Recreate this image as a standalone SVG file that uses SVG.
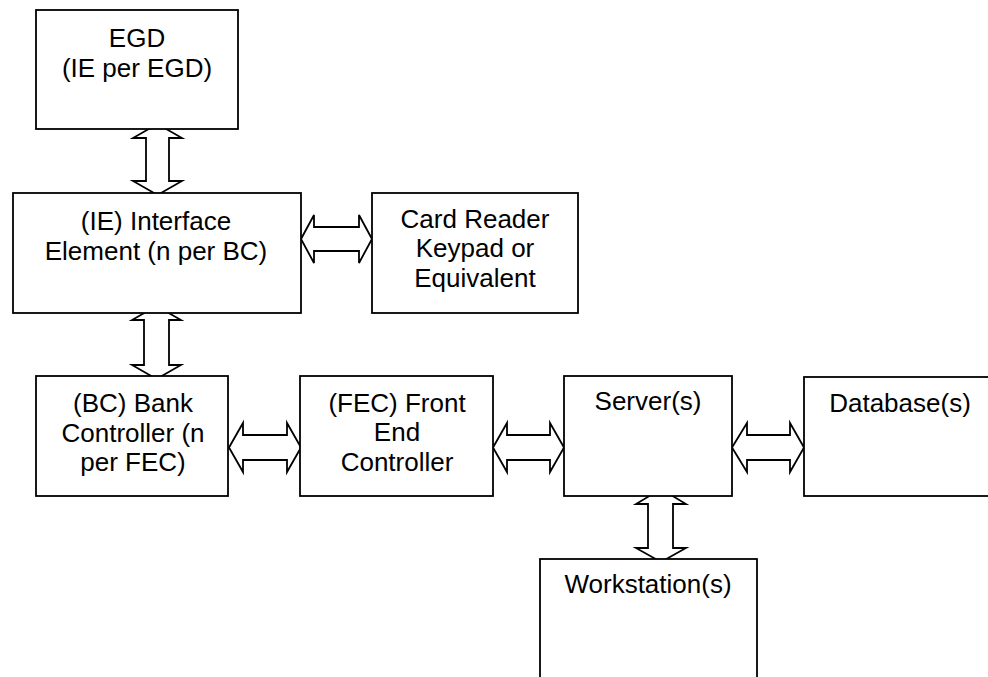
<svg xmlns="http://www.w3.org/2000/svg" width="988" height="677" viewBox="0 0 988 677">
<style>
.box{fill:#fff;stroke:#000;stroke-width:1.8}
.arr{fill:#fff;stroke:#000;stroke-width:1.8;stroke-linejoin:miter}
text{font-family:"Liberation Sans",Arial,sans-serif;font-size:26px;fill:#000;text-anchor:middle}
</style>
<rect width="988" height="677" fill="#fff"/>
<g id="connectors">
<!-- EGD - IE vertical -->
<path class="arr" d="M157.5,124 L182,138 L169,138 L169,181 L182,181 L157.5,195 L133,181 L146,181 L146,138 L133,138 Z"/>
<!-- IE - BC vertical -->
<path class="arr" d="M156.5,306 L181,320 L169,320 L169,365 L181,365 L156.5,379 L132,365 L144,365 L144,320 L132,320 Z"/>
<!-- Server - WS vertical -->
<path class="arr" d="M661,489 L686,504 L673,504 L673,548 L686,548 L661,562 L636,548 L648,548 L648,504 L636,504 Z"/>
<!-- IE - Card horizontal -->
<path class="arr" d="M301,239 L314,215 L314,227 L359,227 L359,215 L372,239 L359,263 L359,251 L314,251 L314,263 Z"/>
<!-- BC - FEC -->
<path class="arr" d="M229,447.5 L243,423 L243,435 L287,435 L287,423 L301,447.5 L287,472 L287,460 L243,460 L243,472 Z"/>
<!-- FEC - Server -->
<path class="arr" d="M493,447.5 L507,423 L507,435 L550,435 L550,423 L564,447.5 L550,472 L550,460 L507,460 L507,472 Z"/>
<!-- Server - DB -->
<path class="arr" d="M732,447.5 L747,423 L747,435 L790,435 L790,423 L804,447.5 L790,472 L790,460 L747,460 L747,472 Z"/>
</g>
<g id="egd">
<rect class="box" x="36" y="10" width="202" height="119"/>
<text x="137" y="47">EGD</text>
<text x="137" y="77">(IE per EGD)</text>
</g>
<g id="ie">
<rect class="box" x="13" y="193" width="288" height="120"/>
<text x="156" y="230">(IE) Interface</text>
<text x="156" y="260">Element (n per BC)</text>
</g>
<g id="card">
<rect class="box" x="372" y="193" width="206" height="120"/>
<text x="475" y="228">Card Reader</text>
<text x="475" y="257">Keypad or</text>
<text x="475" y="287">Equivalent</text>
</g>
<g id="bc">
<rect class="box" x="36" y="376" width="192" height="120"/>
<text x="133" y="412">(BC) Bank</text>
<text x="133" y="442">Controller (n</text>
<text x="133" y="471">per FEC)</text>
</g>
<g id="fec">
<rect class="box" x="300" y="376" width="193" height="120"/>
<text x="397" y="412">(FEC) Front</text>
<text x="397" y="441">End</text>
<text x="397" y="471">Controller</text>
</g>
<g id="server">
<rect class="box" x="564" y="376" width="168" height="120"/>
<text x="648" y="410">Server(s)</text>
</g>
<g id="database">
<rect class="box" x="804" y="377" width="196" height="119"/>
<text x="900" y="412">Database(s)</text>
</g>
<g id="workstation">
<rect class="box" x="540" y="559" width="217" height="130"/>
<text x="648" y="593">Workstation(s)</text>
</g>
</svg>
